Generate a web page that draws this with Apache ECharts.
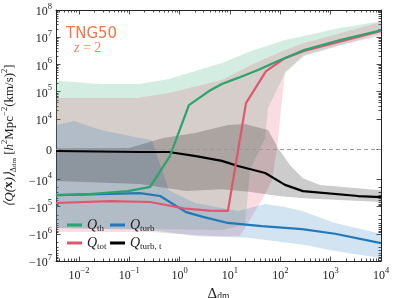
<!DOCTYPE html>
<html><head><meta charset="utf-8">
<script src="https://cdn.jsdelivr.net/npm/echarts@6/dist/echarts.min.js"></script>
<style>html,body{margin:0;padding:0;background:#fff}#c{width:395px;height:298px}</style>
</head><body><div id="c"></div>
<script>
// ---- data (Δ_dm on x, <Q> on y) ----
const thX = [3.5e-3, 0.0166, 0.094, 0.26, 0.64, 1.53, 3.83, 6.9, 14.4, 36, 90, 296, 1535, 1e4];
const thY = [-3.8e4, -3.5e4, -2.7e4, -1.9e4, -2.3e3, 3.2e4, 1.05e5, 1.9e5, 3.2e5, 6.2e5, 1.34e6, 3.4e6, 7.9e6, 1.8e7];
const totX = [3.5e-3, 0.041, 0.26, 1.34, 3.83, 9.1, 20.8, 52, 124, 296, 1e4];
const totY = [-7.4e4, -6.3e4, -6.8e4, -1.2e5, -1.4e5, -1.45e5, 3.8e4, 5.7e5, 1.7e6, 3.1e6, 1.7e7];
const turbX = [3.5e-3, 0.026, 0.163, 0.41, 1.34, 2.91, 9.1, 43, 270, 1220, 1e4];
const turbY = [-3.8e4, -3.5e4, -3.2e4, -4.1e4, -1.6e5, -2.4e5, -4.0e5, -5.2e5, -6.7e5, -1.0e6, -2.2e6];
const turbtX = [3.5e-3, 0.163, 0.61, 2.11, 6.9, 14.4, 50, 124, 282, 3500, 1e4];
const turbtY = [-630, -960, -960, -2.3e3, -3.9e3, -5.6e3, -7.9e3, -1.6e4, -2.7e4, -4.1e4, -4.5e4];

// bands: upper / lower edges
const thUpX = [3.5e-3, 0.026, 0.163, 0.61, 6.9, 26.1, 124, 296, 1535, 1e4];
const thUpY = [2.5e5, 1.9e5, 1.9e5, 2.9e5, 1.13e6, 3.1e6, 7.9e6, 1.1e7, 2.2e7, 3.9e7];
const thLoX = [3.5e-3, 0.26, 6.9, 19.9, 25, 50, 57, 124, 296, 1e4];
const thLoY = [-6.1e5, -6.7e5, -7.3e5, -4.75e5, -6.9e3, 3.7e3, 2.5e4, 4.8e5, 2.0e6, 1.4e7];
const totUpX = [3.5e-3, 0.14, 0.61, 6.9, 26.1, 124, 296, 1535, 1e4];
const totUpY = [5.8e4, 5.8e4, 8.9e4, 2.7e5, 9.5e5, 3.4e6, 6.1e6, 1.4e7, 3.6e7];
const totLoX = [3.5e-3, 0.26, 4.0, 15.8, 43, 68, 86, 108, 124, 296, 1535, 1e4];
const totLoY = [-8.6e5, -8.6e5, -1.2e6, -1.2e6, -5.7e4, -1.15e4, 360, 4.9e4, 5.3e5, 2.2e6, 5.2e6, 1.1e7];
const turbUpX = [3.5e-3, 8e-3, 0.027, 0.163, 0.28, 0.61, 2.02, 14.4, 50, 124, 270, 1220, 1e4];
const turbUpY = [8.0e3, 9.3e3, 6.3e3, 3.7e3, 3.0e3, -2.5e4, -7.4e4, -1.46e5, -8.1e4, -1.04e5, -1.46e5, -4.0e5, -1.0e6];
const turbLoX = [3.5e-3, 0.26, 2.02, 22.8, 309, 1220, 1e4];
const turbLoY = [-6.1e5, -7.3e5, -1.2e6, -1.4e6, -2.6e6, -4.3e6, -7.8e6];
const turbtUpX = [3.5e-3, 0.1, 0.47, 2.02, 9.1, 19.9, 57, 90, 156, 282, 614, 1e4];
const turbtUpY = [300, 360, 3.7e3, 5.3e3, 8.0e3, 8.3e3, 6.3e3, 360, -5.3e3, -9.6e3, -1.6e4, -2.5e4];
const turbtLoX = [3.5e-3, 0.163, 1.34, 6.9, 26.1, 90, 296, 1e4];
const turbtLoY = [-1.15e4, -1.48e4, -2.7e4, -2.3e4, -2.9e4, -4.1e4, -4.9e4, -6.8e4];

const xTickExp = [-2, -1, 0, 1, 2, 3, 4];
const yTickVals = [-1e7, -1e6, -1e5, -1e4, 0, 1e4, 1e5, 1e6, 1e7, 1e8];
const xMin = 3.5e-3, xMax = 1e4;

// ---- symlog transform (linthresh 1e4, linscale 1) ----
const LIN = 1e4, LS = 1 / (1 - 0.1);
function sym(v) { const a = Math.abs(v); return a <= LIN ? v / LIN * LS : Math.sign(v) * (LS + Math.log10(a / LIN)); }
function unsym(t) { const a = Math.abs(t); return a <= LS ? t / LS * LIN : Math.sign(t) * LIN * Math.pow(10, a - LS); }

const C = { th: '#29a46e', tot: '#e0566f', turb: '#2079b8', turbt: '#000000' };
const F = 'Liberation Serif';

const yTicks = yTickVals.map(sym);
const yMinor = [];
for (let k = 4; k <= 7; k++) for (let m = 2; m <= 9; m++) { yMinor.push(sym(m * Math.pow(10, k))); if (k <= 6) yMinor.push(sym(-m * Math.pow(10, k))); }
const xMinor = [];
for (let k = -3; k <= 3; k++) for (let m = 2; m <= 9; m++) { const v = Math.log10(m * Math.pow(10, k)); if (v > Math.log10(xMin) && v < Math.log10(xMax)) xMinor.push(v); }

const supRich = {
  b: { fontFamily: F, fontSize: 12, color: '#222', verticalAlign: 'bottom', lineHeight: 16 },
  s: { fontFamily: F, fontSize: 8.5, color: '#222', verticalAlign: 'top', lineHeight: 16 }
};
function xLab(v) { const e = Math.round(v); return '{b|10}{s|' + (e < 0 ? '\u2212' + (-e) : e) + '}'; }
function yLab(t) {
  const v = unsym(t);
  if (Math.abs(v) < 1) return '{b|0}';
  const e = Math.round(Math.log10(Math.abs(v)));
  return '{b|' + (v < 0 ? '\u221210' : '10') + '}{s|' + e + '}';
}

const xr = [Math.log10(xMin), Math.log10(xMax)];
const yr = [sym(-1e7), sym(1e8)];
function mkX(pos, major, showLab) {
  return {
    type: 'value', position: pos, min: xr[0], max: xr[1], gridIndex: 0,
    axisLine: { show: major, onZero: false, lineStyle: { color: '#222', width: 1 } },
    splitLine: { show: false },
    axisTick: { show: true, inside: true, length: major ? 4.5 : 2.5, customValues: major ? xTickExp : xMinor, lineStyle: { color: '#222', width: 0.8 } },
    axisLabel: { show: showLab, customValues: xTickExp, formatter: xLab, rich: supRich, margin: 5, hideOverlap: false },
    name: showLab ? '{a|\u0394}{s|dm}' : '', nameLocation: 'middle', nameGap: 18,
    nameTextStyle: { rich: { a: { fontFamily: F, fontSize: 15, color: '#222', verticalAlign: 'bottom', lineHeight: 18 }, s: { fontFamily: F, fontSize: 9.5, color: '#222', verticalAlign: 'bottom', lineHeight: 14 } } }
  };
}
function mkY(pos, major, showLab) {
  return {
    type: 'value', position: pos, min: yr[0], max: yr[1], gridIndex: 0,
    axisLine: { show: major, onZero: false, lineStyle: { color: '#222', width: 1 } },
    splitLine: { show: false },
    axisTick: { show: true, inside: true, length: major ? 4.5 : 2.5, customValues: major ? yTicks : yMinor, lineStyle: { color: '#222', width: 0.8 } },
    axisLabel: { show: showLab, customValues: yTicks, formatter: yLab, rich: supRich, margin: 4, hideOverlap: false },
    name: showLab ? '{i|\u27E8Q(}{bb|x}{i|)\u27E9}{sub|\u0394}{sub2|dm}{r| [}{i|h}{p|2}{r|Mpc}{p|\u22122}{r|(km/s)}{p|2}{r|]}' : '',
    nameLocation: 'middle', nameGap: 37,
    nameTextStyle: { rich: {
      i: { fontFamily: F, fontStyle: 'italic', fontSize: 13, color: '#222', verticalAlign: 'middle', lineHeight: 18 },
      bb: { fontFamily: F, fontWeight: 'bold', fontSize: 13, color: '#222', verticalAlign: 'middle', lineHeight: 18 },
      r: { fontFamily: F, fontSize: 13, color: '#222', verticalAlign: 'middle', lineHeight: 18 },
      sub: { fontFamily: F, fontSize: 8, color: '#222', verticalAlign: 'bottom', lineHeight: 18 },
      sub2: { fontFamily: F, fontSize: 7, color: '#222', verticalAlign: 'bottom', lineHeight: 18 },
      p: { fontFamily: F, fontSize: 8.5, color: '#222', verticalAlign: 'top', lineHeight: 18 }
    } }
  };
}

function band(name, ux, uy, lx, ly, fill) {
  return {
    type: 'custom', name: name, xAxisIndex: 0, yAxisIndex: 0, silent: true, z: 1, data: [[0, 0]],
    renderItem: function (params, api) {
      const pts = [];
      for (let i = 0; i < ux.length; i++) pts.push(api.coord([Math.log10(ux[i]), sym(uy[i])]));
      for (let i = lx.length - 1; i >= 0; i--) pts.push(api.coord([Math.log10(lx[i]), sym(ly[i])]));
      return { type: 'polygon', shape: { points: pts }, style: { fill: fill } };
    }
  };
}
function line(name, xs, ys, color, extra) {
  return Object.assign({
    type: 'line', name: name, xAxisIndex: 0, yAxisIndex: 0, z: 5, showSymbol: false, symbol: 'none',
    data: xs.map((x, i) => [Math.log10(x), sym(ys[i])]),
    lineStyle: { color: color, width: 2.2 }, itemStyle: { color: color }, animation: false
  }, extra || {});
}

const legRich = {
  q: { fontFamily: F, fontStyle: 'italic', fontSize: 14, color: '#222', verticalAlign: 'middle', lineHeight: 16 },
  s: { fontFamily: F, fontSize: 9, color: '#222', verticalAlign: 'bottom', lineHeight: 16 }
};
const legSub = { 'Q_th': 'th', 'Q_tot': 'tot', 'Q_turb': 'turb', 'Q_turb,t': 'turb, t' };
function leg(name, left, top) {
  return {
    data: [name], left: left, top: top, padding: 0, icon: 'rect', itemWidth: 15, itemHeight: 3, itemGap: 0,
    selectedMode: false, textStyle: { rich: legRich },
    formatter: n => '{q|Q}{s|' + legSub[n] + '}'
  };
}

const chart = echarts.init(document.getElementById('c'), null, { renderer: 'canvas' });
chart.setOption({
  animation: false,
  backgroundColor: '#fff',
  grid: { left: 56, right: 14, top: 10, bottom: 37, containLabel: false, outerBoundsMode: 'none' },
  xAxis: [mkX('bottom', true, true), mkX('bottom', false, false), mkX('top', true, false), mkX('top', false, false)],
  yAxis: [mkY('left', true, true), mkY('left', false, false), mkY('right', true, false), mkY('right', false, false)],
  legend: [leg('Q_th', 67, 218), leg('Q_turb', 110, 218), leg('Q_tot', 67, 236), leg('Q_turb,t', 110, 236)],
  graphic: [
    { type: 'text', left: 66, top: 27, style: { text: 'TNG50', font: '15px "DejaVu Sans"', fill: '#ef7748' } },
    { type: 'text', left: 74, top: 41, style: { text: '{i|z}{r| = 2}', rich: {
      i: { fontFamily: F, fontStyle: 'italic', fontSize: 14, fill: '#f08a5e' },
      r: { fontFamily: F, fontSize: 14, fill: '#f08a5e' } } } }
  ],
  series: [
    band('th band', thUpX, thUpY, thLoX, thLoY, 'rgba(41,164,110,0.2)'),
    band('tot band', totUpX, totUpY, totLoX, totLoY, 'rgba(224,86,111,0.2)'),
    band('turb band', turbUpX, turbUpY, turbLoX, turbLoY, 'rgba(32,121,184,0.2)'),
    band('turbt band', turbtUpX, turbtUpY, turbtLoX, turbtLoY, 'rgba(0,0,0,0.2)'),
    line('Q_turb,t', turbtX, turbtY, C.turbt, {
      markLine: { silent: true, symbol: 'none', label: { show: false }, z: 3,
        lineStyle: { color: '#999', type: [4, 3], width: 1 }, data: [{ yAxis: 0 }] }
    }),
    line('Q_turb', turbX, turbY, C.turb),
    line('Q_tot', totX, totY, C.tot),
    line('Q_th', thX, thY, C.th)
  ]
});
</script></body></html>
